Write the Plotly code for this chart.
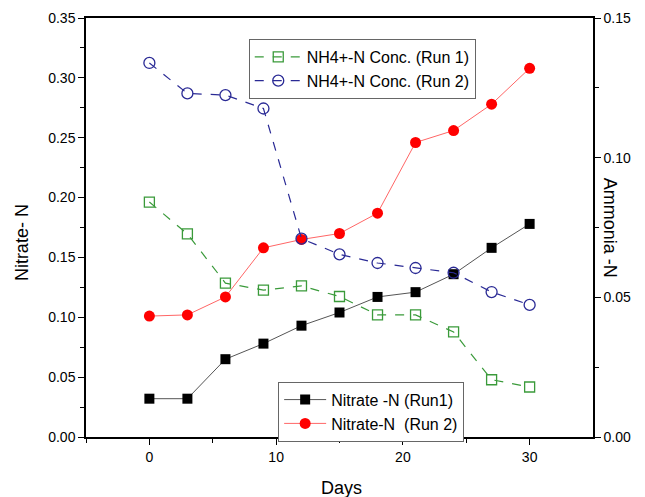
import plotly.graph_objects as go

days = [0, 3, 6, 9, 12, 15, 18, 21, 24, 27, 30]
nitrate_run1 = [0.032, 0.032, 0.065, 0.078, 0.093, 0.104, 0.117, 0.121, 0.136, 0.158, 0.178]
nitrate_run2 = [0.101, 0.102, 0.117, 0.158, 0.165, 0.170, 0.187, 0.246, 0.256, 0.278, 0.308]
nh4_run1 = [0.0841, 0.0727, 0.0551, 0.0526, 0.0541, 0.0503, 0.0437, 0.0437, 0.0376, 0.0205, 0.0179]
nh4_run2 = [0.1339, 0.1230, 0.1224, 0.1176, 0.0710, 0.0654, 0.0623, 0.0605, 0.0588, 0.0519, 0.0473]

font = "Liberation Sans, Arial, sans-serif"

fig = go.Figure()
fig.add_trace(go.Scatter(x=days, y=nh4_run1, yaxis="y2", mode="lines+markers",
                         name="NH4+-N Conc. (Run 1)", legend="legend",
                         line=dict(color="#3a9a3a", width=1.2, dash="dash"),
                         marker=dict(symbol="square-open", size=10, color="#3a9a3a", line=dict(width=1.3))))
fig.add_trace(go.Scatter(x=days, y=nh4_run2, yaxis="y2", mode="lines+markers",
                         name="NH4+-N Conc. (Run 2)", legend="legend",
                         line=dict(color="#2a2a95", width=1.2, dash="dash"),
                         marker=dict(symbol="circle-open", size=11, color="#2a2a95", line=dict(width=1.3))))
fig.add_trace(go.Scatter(x=days, y=nitrate_run1, mode="lines+markers",
                         name="Nitrate -N (Run1)", legend="legend2",
                         line=dict(color="#555555", width=1),
                         marker=dict(symbol="square", size=10, color="black")))
fig.add_trace(go.Scatter(x=days, y=nitrate_run2, mode="lines+markers",
                         name="Nitrate-N  (Run 2)", legend="legend2",
                         line=dict(color="#ff6666", width=1),
                         marker=dict(symbol="circle", size=11, color="#ff0000")))

axis_common = dict(showline=True, linecolor="black", linewidth=1.5, ticks="outside",
                   ticklen=6, tickwidth=1.3, tickcolor="black", showgrid=False, zeroline=False,
                   automargin=False,
                   tickfont=dict(family=font, size=14, color="black"))

fig.update_layout(
    width=637, height=489,
    margin=dict(l=78, r=52, t=10, b=60),
    paper_bgcolor="white", plot_bgcolor="white",
    font=dict(family=font, color="black"),
    xaxis=dict(range=[-5, 35], tickvals=[0, 10, 20, 30], mirror=True,
               minor=dict(tickvals=[-5, 5, 15, 25], ticklen=4, tickwidth=1.3, tickcolor="black", ticks="outside"),
               **axis_common),
    yaxis=dict(range=[0, 0.35], tickvals=[0, 0.05, 0.10, 0.15, 0.20, 0.25, 0.30, 0.35],
               tickformat=".2f",
               minor=dict(tickvals=[0.025, 0.075, 0.125, 0.175, 0.225, 0.275, 0.325], ticklen=4,
                          tickwidth=1.3, tickcolor="black", ticks="outside"),
               **axis_common),
    yaxis2=dict(range=[0, 0.15], overlaying="y", side="right", anchor="x",
                tickvals=[0, 0.05, 0.10, 0.15], tickformat=".2f",
                minor=dict(tickvals=[0.025, 0.075, 0.125], ticklen=4, tickwidth=1.3,
                           tickcolor="black", ticks="outside"),
                **axis_common),
    legend=dict(x=0.321, y=0.95, xanchor="left", yanchor="top", bgcolor="white",
                bordercolor="#666666", borderwidth=1, font=dict(family=font, size=16),
                tracegroupgap=0, itemwidth=47),
    legend2=dict(x=0.379, y=0.132, xanchor="left", yanchor="top", bgcolor="white",
                 bordercolor="#666666", borderwidth=1, font=dict(family=font, size=16),
                 tracegroupgap=0, itemwidth=42),
    annotations=[
        dict(text="Days", xref="paper", yref="paper", x=0.503, y=-0.122, xanchor="center",
             yanchor="middle", showarrow=False, font=dict(family=font, size=18)),
        dict(text="Nitrate- N", xref="paper", yref="paper", x=-0.126, y=0.463, xanchor="center",
             yanchor="middle", showarrow=False, textangle=-90, font=dict(family=font, size=18)),
        dict(text="Ammonia -N", xref="paper", yref="paper", x=1.035, y=0.50, xanchor="center",
             yanchor="middle", showarrow=False, textangle=90, font=dict(family=font, size=18)),
    ],
)

fig.write_html("out.html")
